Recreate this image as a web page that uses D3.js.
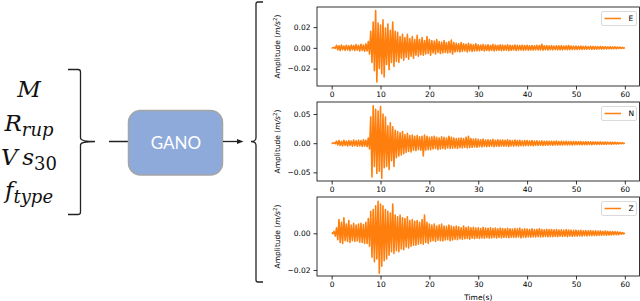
<!DOCTYPE html>
<html><head><meta charset="utf-8">
<script src="https://cdn.jsdelivr.net/npm/d3@7"></script>
<style>body{margin:0;background:#fff}svg{display:block}</style>
</head><body>
<svg id="c" width="640" height="301"></svg>
<script>
// ---------------- DATA ----------------
const channels = ["E", "N", "Z"];
const timeStep = 0.5;            // s between stored envelope samples
const xTicks = [0, 10, 20, 30, 40, 50, 60];
const xLim = [-3, 63];
// envelope peaks in mm/s^2 (positive peak, then magnitude of negative peak), one per 0.5 s, t = 0..60
const eHi = [0.2,0.4,2.5,2,2.8,1.8,2.5,2,2.7,2.2, 3.2,2.4,3.5,2.6,3.8,6,16,25,36,24,
  22,27,19,23,17,25,16,15,11,13, 10,13,9,11,8,12,8,10,7,11,
  8,7,6.5,8,6,5.5,7,5,6,7.5, 5,4.5,4,5,4,3.5,4.5,3.5,3,4,
  3,2.8,3.2,2.6,3,2.5,3.3,2.7,2.5,3, 2.6,2.4,3,2.5,2.3,2.8,2.4,2.2,2.6,2.3,
  2.5,2.1,2.3,2,2.4,2.2,3.5,2,2.2,1.9, 2.1,1.8,2,1.9,2.1,1.7,1.9,2.3,1.8,1.6,
  1.8,1.5,1.7,1.4,1.6,1.3,1.5,1.4,1.3,1.2, 1.4,1.1,1.2,1,1.1,0.9,1,0.8,0.7,0.5, 0.3];
const eLo = [0.2,0.5,2,2.6,1.8,2.4,2,2.7,1.9,2.5, 2.2,3,2.5,3.3,3,6,14,22,33,20,
  25,28,16,21,14,18,13,14,10,12, 9,11,8,10,7,8,6.5,7,6,5.5,
  7,5,6,4.5,5.5,5,4.5,5,4.5,6, 4,3.5,4,3.5,3,4,3,3.5,3,2.8,
  2.8,2.5,3,2.4,2.8,2.3,3,2.5,2.4,2.7, 2.4,2.2,2.7,2.3,2.1,2.5,2.2,2.1,2.4,2,
  2.3,2,2.2,1.9,2.1,2,2.2,1.8,2,1.8, 1.9,1.7,1.9,1.8,1.9,1.6,1.8,1.7,1.6,1.5,
  1.6,1.4,1.5,1.3,1.4,1.2,1.4,1.3,1.2,1.1, 1.2,1,1.1,0.9,1,0.8,0.9,0.7,0.6,0.4, 0.2];
const nHi = [0.3,0.8,3.5,4.5,3,5,3.5,4.5,3.8,5.5, 4,5,4.5,6,5,9,45,64,58,55,
  63,50,45,30,35,28,22,20,18,20, 15,17,13,14,12,13,11,12,14,12,
  10,11,12,10,9,11,10,9,12,10, 9,8,8.5,9,8,10,12,8,7,7.5,
  6.5,6,7,5.5,6,5.5,6.5,5,6,5.5, 5.5,5,6,5,4.5,5.5,4.5,5,4,4.5,
  4.5,4,4.5,3.8,4,3.5,4,3.5,3.8,3.3, 3.5,3.2,3.6,3,3.4,3,3.2,2.8,3,2.8,
  2.8,2.6,2.9,2.5,2.6,2.4,2.5,2.2,2.3,2.1, 2.2,2,2.1,1.8,1.9,1.6,1.6,1.3,1.1,0.8, 0.4];
const nLo = [0.3,0.8,3,4,4.5,3.5,4.8,3.7,5,4.2, 5,4.5,5.5,5,6,10,58,40,52,48,
  60,42,40,45,30,40,25,22,20,18, 16,14,15,12,13,11,12,22,12,11,
  11,10,9,11,10,9,10,8,9,8.5, 8,9,7.5,8,7,8,7.5,7,6.5,7,
  6,6.5,5.5,6,5.5,5,6,5,5.5,4.8, 5,4.8,5.5,4.5,5,4.3,4.8,4.2,4.5,4,
  4.2,3.9,4.3,3.6,4,3.5,3.8,3.4,3.6,3.2, 3.4,3,3.3,2.9,3.1,2.8,3,2.7,2.9,2.6,
  2.7,2.5,2.6,2.4,2.5,2.2,2.4,2.1,2.2,2, 2,1.9,2,1.7,1.8,1.5,1.5,1.2,1,0.7, 0.3];
const zHi = [0.2,1,3,7.5,6,8.5,5,7,4.5,5.5, 4.5,5,5.5,4.8,6,8,12,13,15,17.5,
  16,15,13,12,11,16,10,9,10,8.5, 8,9,7,7.5,6.5,7,6,7.5,10,6,
  5,4.5,5,4,4.5,5,4,3.8,4.5,4, 3.5,4,3.5,3,4,3.2,3.5,3,3.3,2.8,
  3,2.6,3.2,2.8,2.7,3,2.6,2.9,2.5,2.8, 2.6,2.4,2.7,2.5,2.3,2.6,2.4,2.8,2.2,2.5,
  2.3,2.1,2.4,2,2.2,2.5,2.1,1.9,2.2,2, 2.1,1.9,2,1.8,1.9,1.7,2,1.8,1.7,1.6,
  1.7,1.5,1.6,1.4,1.5,1.4,1.5,1.3,1.4,1.2, 1.3,1.1,1.2,1.1,1,1,0.9,0.8,0.6,0.4, 0.2];
const zLo = [0.2,1.5,3.5,5,5.5,4,4.5,5,4,4.5, 4.2,4.8,5,5.5,5.5,7,13,15.5,14,21.8,
  18,15,14,12,10,11,9.5,10,8.5,9, 7.5,8,7,6.5,6.5,6,5.5,6,5,5.5,
  4.5,4,4.5,3.8,4,4.2,3.6,3.5,4,3.6, 3.2,3.5,3,3.2,3,2.8,3.2,2.7,2.9,2.6,
  2.8,2.5,2.7,2.4,2.6,2.5,2.3,2.6,2.2,2.5, 2.3,2.2,2.4,2.1,2.2,2.3,2,2.5,2.1,2.2,
  2,2.1,1.9,2,1.8,2,1.9,1.7,1.9,1.8, 1.8,1.7,1.8,1.6,1.7,1.6,1.8,1.5,1.6,1.5,
  1.5,1.4,1.5,1.3,1.4,1.2,1.3,1.2,1.2,1.1, 1.1,1,1.1,0.9,0.9,0.8,0.8,0.7,0.5,0.3, 0.2];
const yTicksE = [-0.02, 0, 0.02];
const yTicksN = [-0.05, 0, 0.05];
const yTicksZ = [-0.02, 0];
const yLimE = [-0.0368, 0.0394];
const yLimN = [-0.0648, 0.0706];
const yLimZ = [-0.0233, 0.0198];
const blockLabel = "GANO";
const yLabel = "Amplitude";
const xLabel = "Time(s)";

// ---------------- DRAW ----------------
const svg = d3.select("#c");
const orange = "#ff7f0e";
const font = "DejaVu Sans";
const fs = 7.5;

// left: input variables
const mathFont = "'DejaVu Serif', serif";
const inputs = [
  {main: "M", sub: null, y: 97},
  {main: "R", sub: "rup", y: 131},
  {main: "V\u2009s", sub: "30", y: 165, subUpright: true},
  {main: "f", sub: "type", y: 198}
];
inputs.forEach(d => {
  const t = svg.append("text").attr("x", 29).attr("y", d.y)
    .attr("text-anchor", "middle").attr("font-family", mathFont)
    .attr("font-style", "italic").attr("font-size", 23).attr("fill", "#111");
  t.append("tspan").text(d.main);
  if (d.sub) t.append("tspan").attr("dy", 5).attr("font-size", 18)
    .attr("font-style", d.subUpright ? "normal" : "italic").text(d.sub);
});

const ink = "#222";
// small brace
svg.append("path")
  .attr("d", "M68,69.5 L78,69.5 Q80.5,69.5 80.5,72 L80.5,138 Q80.5,141.5 95,141.5 Q80.5,141.5 80.5,145 L80.5,212 Q80.5,214.5 78,214.5 L68,214.5")
  .attr("fill", "none").attr("stroke", ink).attr("stroke-width", 1.3);
// line into block
svg.append("line").attr("x1", 109).attr("x2", 129).attr("y1", 141.5).attr("y2", 141.5)
  .attr("stroke", ink).attr("stroke-width", 1.5);
// GANO block
svg.append("rect").attr("x", 128.5).attr("y", 110.5).attr("width", 94).attr("height", 64.5)
  .attr("rx", 12).attr("fill", "#8eaadb").attr("stroke", "#a5a5a5").attr("stroke-width", 1.5);
svg.append("text").attr("x", 176).attr("y", 149).attr("text-anchor", "middle")
  .attr("font-family", "Lato, 'Open Sans', sans-serif").attr("font-size", 17)
  .attr("fill", "#fff").text(blockLabel);
// arrow out
svg.append("line").attr("x1", 223).attr("x2", 239).attr("y1", 141.5).attr("y2", 141.5)
  .attr("stroke", ink).attr("stroke-width", 1.3);
svg.append("path").attr("d", "M237,139 L243.5,141.5 L237,144 Z").attr("fill", ink);
// big brace
svg.append("path")
  .attr("d", "M263,2 L258,2 Q256,2 256,4 L256,138 Q256,141.5 251,141.5 Q256,141.5 256,145 L256,280 Q256,282 258,282 L263,282")
  .attr("fill", "none").attr("stroke", ink).attr("stroke-width", 1.3);

// panels
const axL = 317, axR = 639.5, axH = 79;
const x = d3.scaleLinear().domain(xLim).range([axL, axR]);
const panels = [
  {name: channels[0], top: 7, hi: eHi, lo: eLo, ticks: yTicksE, lim: yLimE},
  {name: channels[1], top: 102, hi: nHi, lo: nLo, ticks: yTicksN, lim: yLimN},
  {name: channels[2], top: 197, hi: zHi, lo: zLo, ticks: yTicksZ, lim: yLimZ}
];
panels.forEach((p, k) => {
  const y = d3.scaleLinear().domain(p.lim).range([p.top + axH, p.top]);
  const g = svg.append("g");
  const pts = [];
  const last = p.hi.length - 1;
  p.hi.forEach((h, i) => {
    pts.push([i * timeStep, h / 1000]);
    if (i < last) pts.push([i * timeStep + timeStep / 2, -p.lo[i] / 1000]);
  });
  const clipId = "clip" + k;
  svg.append("clipPath").attr("id", clipId).append("rect")
    .attr("x", axL).attr("y", p.top).attr("width", axR - axL).attr("height", axH);
  g.append("path").datum(pts).attr("clip-path", `url(#${clipId})`)
    .attr("d", d3.line().x(d => x(d[0])).y(d => y(d[1])))
    .attr("fill", "none").attr("stroke", orange).attr("stroke-width", 1.6)
    .attr("stroke-linejoin", "round");

  // axes
  const ya = g.append("g").attr("transform", `translate(${axL},0)`)
    .call(d3.axisLeft(y).tickValues(p.ticks).tickSize(3.5).tickPadding(3)
      .tickFormat(d3.format(".2f")));
  const xa = g.append("g").attr("transform", `translate(0,${p.top + axH})`)
    .call(d3.axisBottom(x).tickValues(xTicks).tickSize(3.5).tickPadding(2.5)
      .tickFormat(d3.format("d")));
  [ya, xa].forEach(a => {
    a.select(".domain").remove();
    a.selectAll("line").attr("stroke", "#000").attr("stroke-width", 0.8);
    a.selectAll("text").attr("font-family", font).attr("font-size", fs).attr("fill", "#000");
  });
  g.append("rect").attr("x", axL).attr("y", p.top).attr("width", axR - axL).attr("height", axH)
    .attr("fill", "none").attr("stroke", "#000").attr("stroke-width", 0.8);

  // y label
  const yl = g.append("text")
    .attr("transform", `translate(279.5,${p.top + axH / 2}) rotate(-90)`)
    .attr("text-anchor", "middle").attr("font-family", font).attr("font-size", fs).attr("fill", "#000");
  yl.append("tspan").text(yLabel + " (");
  yl.append("tspan").attr("font-style", "italic").text("m/s");
  yl.append("tspan").attr("dy", -3).attr("font-size", 5.5).text("2");
  yl.append("tspan").attr("dy", 3).text(")");

  // legend
  const lg = g.append("g");
  lg.append("rect").attr("x", 601.5).attr("y", p.top + 4.5).attr("width", 35).attr("height", 14)
    .attr("rx", 1.5).attr("fill", "#fff").attr("fill-opacity", 0.8)
    .attr("stroke", "#d0d0d0").attr("stroke-width", 0.8);
  lg.append("line").attr("x1", 604.5).attr("x2", 621).attr("y1", p.top + 11.5).attr("y2", p.top + 11.5)
    .attr("stroke", orange).attr("stroke-width", 1.5);
  lg.append("text").attr("x", 628.5).attr("y", p.top + 14.3).attr("font-family", font)
    .attr("font-size", fs).attr("fill", "#000").text(p.name);
});

svg.append("text").attr("x", (x(0) + x(60)) / 2).attr("y", 299.5).attr("text-anchor", "middle")
  .attr("font-family", font).attr("font-size", fs).attr("fill", "#000").text(xLabel);
</script>
</body></html>
